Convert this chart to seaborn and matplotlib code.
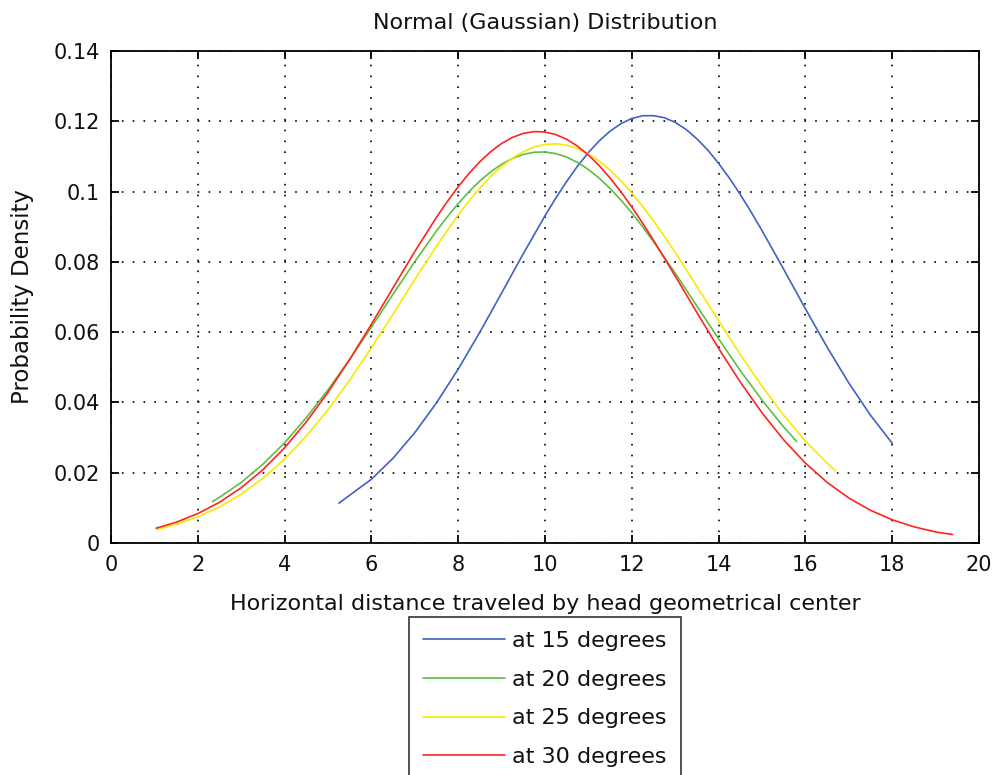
import matplotlib
matplotlib.use("Agg")
import matplotlib.pyplot as plt
import seaborn as sns
import pandas as pd

# ---- data ----
x_15 = [5.25, 6, 6.5, 7, 7.5, 8, 8.5, 9, 9.5, 10, 10.25, 10.5, 10.75, 11, 11.25,
        11.5, 11.75, 12, 12.25, 12.5, 12.75, 13, 13.25, 13.5, 13.75, 14, 14.25,
        14.5, 14.75, 15, 15.5, 16, 16.5, 17, 17.5, 18]
y_15 = [0.01131, 0.01813, 0.02413, 0.03140, 0.03987, 0.04948, 0.06001, 0.07111,
        0.08233, 0.09311, 0.09818, 0.1029, 0.10725, 0.1111, 0.11445, 0.1172,
        0.11933, 0.1208, 0.12157, 0.1216, 0.12101, 0.1197, 0.11768, 0.1150,
        0.11182, 0.1080, 0.10380, 0.09915, 0.09415, 0.08889, 0.07786, 0.06663,
        0.05571, 0.04552, 0.03633, 0.02835]

x_20 = [2.34, 2.5, 3, 3.5, 4, 4.5, 5, 5.5, 6, 6.5, 7, 7.5, 7.75, 8, 8.25, 8.5,
        8.75, 9, 9.25, 9.5, 9.75, 10, 10.25, 10.5, 10.75, 11, 11.25, 11.5, 11.75,
        12, 12.25, 12.5, 13, 13.5, 14, 14.5, 15, 15.5, 15.8]
y_20 = [0.01180, 0.01300, 0.01720, 0.02240, 0.02850, 0.03564, 0.04357, 0.05223,
        0.06140, 0.07080, 0.08006, 0.08879, 0.09283, 0.09657, 0.09998, 0.10302,
        0.10563, 0.10777, 0.10943, 0.11057, 0.11119, 0.11126, 0.11080, 0.10980,
        0.10829, 0.10627, 0.10379, 0.10087, 0.09757, 0.09391, 0.08995, 0.08573,
        0.07677, 0.06741, 0.05806, 0.04904, 0.04062, 0.03300, 0.02886]

x_25 = [1.07, 1.5, 2, 2.5, 3, 3.5, 4, 4.5, 5, 5.5, 6, 6.5, 7, 7.5, 8, 8.25, 8.5,
        8.75, 9, 9.25, 9.5, 9.75, 10, 10.25, 10.5, 10.75, 11, 11.25, 11.5, 11.75,
        12, 12.25, 12.5, 12.75, 13, 13.5, 14, 14.5, 15, 15.5, 16, 16.5, 16.69]
y_25 = [0.00386, 0.00526, 0.00742, 0.01024, 0.01386, 0.01837, 0.02387, 0.03039,
        0.03792, 0.04635, 0.05552, 0.06518, 0.07497, 0.08450, 0.09334, 0.09736,
        0.10103, 0.10431, 0.10715, 0.10951, 0.11136, 0.11267, 0.11342, 0.11360,
        0.11319, 0.11221, 0.11069, 0.10863, 0.10607, 0.10305, 0.09960, 0.09578,
        0.09165, 0.08725, 0.08264, 0.07302, 0.06322, 0.05364, 0.04459, 0.03633,
        0.02900, 0.02269, 0.02056]

x_30 = [1.04, 1.5, 2, 2.5, 3, 3.5, 4, 4.5, 5, 5.5, 6, 6.5, 7, 7.5, 7.75, 8, 8.25,
        8.5, 8.75, 9, 9.25, 9.5, 9.75, 10, 10.25, 10.5, 10.75, 11, 11.25, 11.5,
        11.75, 12, 12.25, 12.5, 13, 13.5, 14, 14.5, 15, 15.5, 16, 16.5, 17, 17.5,
        18, 18.5, 19, 19.39]
y_30 = [0.00420, 0.00589, 0.00835, 0.01157, 0.01570, 0.02084, 0.02708, 0.03444,
        0.04287, 0.05222, 0.06225, 0.07263, 0.08294, 0.09268, 0.09719, 0.10137,
        0.10517, 0.10851, 0.11136, 0.11367, 0.11541, 0.11655, 0.11707, 0.11695,
        0.11621, 0.11486, 0.11291, 0.11040, 0.10736, 0.10385, 0.09991, 0.09560,
        0.09098, 0.08614, 0.07596, 0.06555, 0.05537, 0.04577, 0.03703, 0.02932,
        0.02272, 0.01723, 0.01279, 0.00929, 0.00660, 0.00460, 0.00313, 0.00240]

labels = ["at 15 degrees", "at 20 degrees", "at 25 degrees", "at 30 degrees"]
colors = ["#3f62c4", "#5cbf3f", "#f7ea00", "#ff2424"]
x_ticks = [0, 2, 4, 6, 8, 10, 12, 14, 16, 18, 20]
y_ticks = [0, 0.02, 0.04, 0.06, 0.08, 0.1, 0.12, 0.14]
y_tick_labels = ["0", "0.02", "0.04", "0.06", "0.08", "0.1", "0.12", "0.14"]

# ---- plotting ----
sns.set_theme(style="white")
plt.rcParams["font.family"] = ["DejaVu Sans"]

fig = plt.figure(figsize=(9.97, 7.75), dpi=100)
ax = fig.add_axes([0.1113, 0.2994, 0.982 - 0.1113, 0.9342 - 0.2994])

series = [(x_15, y_15), (x_20, y_20), (x_25, y_25), (x_30, y_30)]
for (xs, ys), lab, col in zip(series, labels, colors):
    df = pd.DataFrame({"x": xs, "y": ys})
    sns.lineplot(data=df, x="x", y="y", ax=ax, color=col, linewidth=1.2,
                 label=lab, sort=False, estimator=None)

ax.set_xlim(0, 20)
ax.set_ylim(0, 0.14)
ax.set_xticks(x_ticks)
ax.set_xticklabels([str(t) for t in x_ticks])
ax.set_yticks(y_ticks)
ax.set_yticklabels(y_tick_labels)

ax.grid(True, color="black", linestyle=(0, (1, 5.5)), linewidth=1.2)
for s in ax.spines.values():
    s.set_color("black")
    s.set_linewidth(1.3)
    s.set_visible(True)

ax.tick_params(axis="both", which="major", direction="in", length=6, width=1.3,
               color="black", top=True, right=True, bottom=True, left=True,
               labelsize=15, labelcolor="#111111")
ax.tick_params(axis="x", pad=9)
ax.tick_params(axis="y", pad=8)

ax.set_title("Normal (Gaussian) Distribution", fontsize=16, pad=16, color="#111111")
ax.set_xlabel("Horizontal distance traveled by head geometrical center",
              fontsize=16, labelpad=13.5, color="#111111")
ax.set_ylabel("Probability Density", fontsize=16.5, labelpad=14, color="#111111")

leg = ax.legend(loc="upper center", bbox_to_anchor=(0.5, -0.150), fontsize=16,
                frameon=True, fancybox=False, shadow=False, handlelength=3.7,
                handletextpad=0.32, labelspacing=0.84, borderpad=0.64,
                borderaxespad=0.0)
leg.get_frame().set_edgecolor("black")
leg.get_frame().set_linewidth(1.2)
for t in leg.get_texts():
    t.set_color("#111111")

fig.savefig("out.png", dpi=100)
